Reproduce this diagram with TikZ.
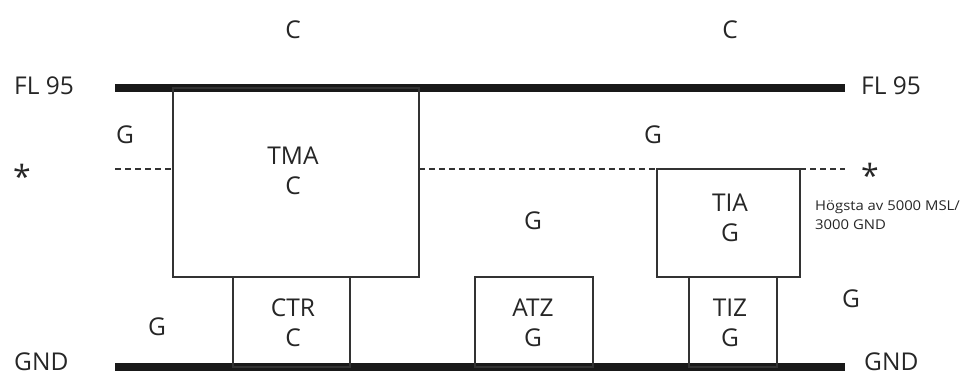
\documentclass[tikz,border=0pt]{standalone}
\usepackage{fontspec}
\setmainfont{Open Sans}
\newfontfamily\notefont[FakeStretch=1.1]{Open Sans}
\begin{document}
\begin{tikzpicture}[x=1pt,y=-1pt,
  lbl/.style={font=\fontsize{24.5}{30}\selectfont, text=black!85, inner sep=0pt, align=center},
  edgelbl/.style={font=\fontsize{24.5}{30}\selectfont, text=black!85, inner sep=0pt, text depth=0pt, anchor=base west},
  starlbl/.style={font=\fontsize{32}{32}\selectfont, text=black!85, inner sep=0pt},
  note/.style={font=\notefont\fontsize{13.5}{19}\selectfont, text=black!85, inner sep=0pt, align=left, anchor=west},
  level/.style={line width=7.5pt, black!90},
  boxline/.style={draw=black!80, line width=1.6pt},
  dashline/.style={draw=black!80, line width=1.2pt, dash pattern=on 6pt off 4pt}]
\useasboundingbox (0,0) rectangle (971,374);
% levels
\draw[level] (115,88) -- (845,88);
\draw[level] (115,367) -- (845,367);
% dashed level
\draw[dashline] (115,169) -- (173,169);
\draw[dashline] (419,169) -- (657,169);
\draw[dashline] (800,169) -- (845,169);
% boxes
\draw[boxline] (173,88) rectangle (419,277);
\draw[boxline] (657,169) rectangle (800,277);
\draw[boxline] (233,277) rectangle (350,367);
\draw[boxline] (475,277) rectangle (593,367);
\draw[boxline] (689,277) rectangle (777,367);
% side labels
\node[edgelbl] (fl95l) at (14,95) {FL 95};
\node[edgelbl] (fl95r) at (861,95) {FL 95};
\node[edgelbl] (gndl) at (14,370) {GND};
\node[edgelbl] (gndr) at (864,370) {GND};
\node[starlbl] (starl) at (22,176) {*};
\node[starlbl] (starr) at (870,175) {*};
% area labels
\node[lbl] (c1) at (293,30) {C};
\node[lbl] (c2) at (730,30) {C};
\node[lbl] (g1) at (125,135) {G};
\node[lbl] (g2) at (653,135) {G};
\node[lbl] (g3) at (533,221) {G};
\node[lbl] (g4) at (157,327) {G};
\node[lbl] (g5) at (851,299) {G};
\node[lbl] (tma) at (293,171) {TMA\\C};
\node[lbl] (tia) at (730,218) {TIA\\G};
\node[lbl] (ctr) at (293,323) {CTR\\C};
\node[lbl] (atz) at (533,323) {ATZ\\G};
\node[lbl] (tiz) at (730,323) {TIZ\\G};
\node[note] (hog) at (815,215) {Högsta av 5000 MSL/\\3000 GND};
\end{tikzpicture}
\end{document}
